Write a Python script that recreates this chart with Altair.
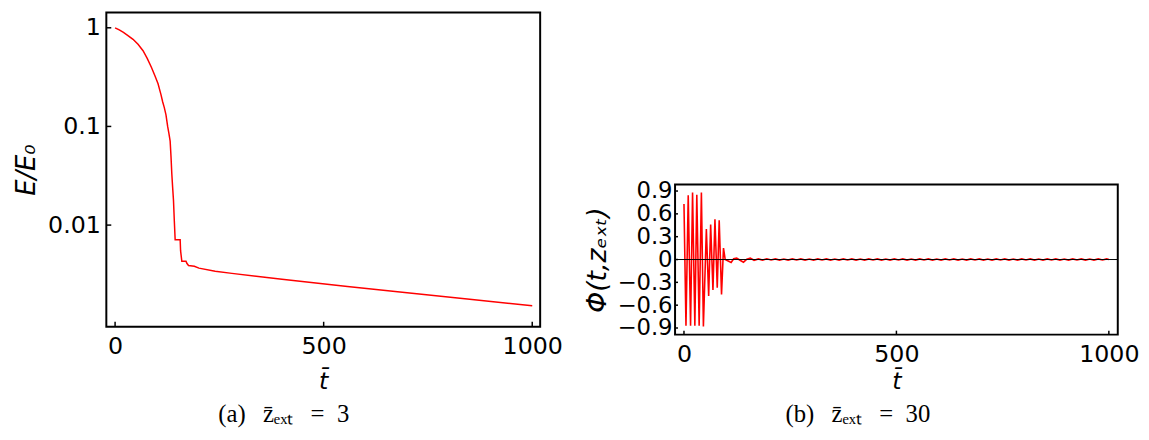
import altair as alt
import pandas as pd

# ---------------- data ----------------
t_a = [0, 10, 20, 30, 43, 55, 67, 77, 87, 95, 103, 110, 114, 118, 122, 126, 129,
       132, 134, 136, 138, 140, 142, 144, 156, 157, 160, 170, 172, 176, 190, 201,
       240, 280, 400, 557, 700, 850, 1000]
e_a = [1.0, 0.951, 0.898, 0.839, 0.764, 0.68, 0.585, 0.49, 0.398, 0.33, 0.271, 0.21,
       0.178, 0.155, 0.131, 0.10, 0.085, 0.071, 0.05, 0.033, 0.024, 0.0178, 0.011,
       0.0071, 0.0071, 0.0055, 0.0043, 0.0043, 0.0041, 0.0039, 0.00383, 0.00366,
       0.0034, 0.00324, 0.00283, 0.00238, 0.00206, 0.00177, 0.00152]

t_b_burst = [0, 4.7, 10, 15.5, 20.2, 25.6, 30.2, 35.7, 41, 45.7, 52.7, 58.1, 62.8,
             68.2, 72.9, 78.3, 82.9, 88.4, 93, 97, 104, 111, 117, 124, 132, 140, 148, 156]
phi_b_burst = [0.73, -0.87, 0.845, -0.87, 0.88, -0.87, 0.85, -0.87, 0.88, -0.88,
               0.40, -0.48, 0.46, -0.40, 0.53, -0.37, 0.515, -0.46, 0.15, 0.0,
               -0.02, -0.04, 0.01, 0.02, -0.01, -0.035, 0.005, 0.02]
t_b_tail = [165, 175, 185, 195, 205, 215, 225, 235, 245, 255, 265, 275, 285, 295,
            305, 315, 325, 335, 345, 355, 365, 375, 385, 395, 405, 415, 425, 435,
            445, 455, 465, 475, 485, 495, 505, 515, 525, 535, 545, 555, 565, 575,
            585, 595, 605, 615, 625, 635, 645, 655, 665, 675, 685, 695, 705, 715,
            725, 735, 745, 755, 765, 775, 785, 795, 805, 815, 825, 835, 845, 855,
            865, 875, 885, 895, 905, 915, 925, 935, 945, 955, 965, 975, 985, 995, 1000]
phi_b_tail = [-0.01, 0.008, -0.008, 0.009, -0.007, 0.008, -0.008, 0.007, -0.008, 0.008,
              -0.007, 0.008, -0.008, 0.007, -0.008, 0.008, -0.007, 0.008, -0.008, 0.007,
              -0.008, 0.008, -0.007, 0.008, -0.008, 0.007, -0.008, 0.008, -0.007, 0.008,
              -0.008, 0.007, -0.008, 0.008, -0.007, 0.008, -0.008, 0.007, -0.008, 0.008,
              -0.007, 0.008, -0.008, 0.007, -0.008, 0.008, -0.007, 0.008, -0.008, 0.007,
              -0.008, 0.008, -0.007, 0.008, -0.008, 0.007, -0.008, 0.008, -0.007, 0.008,
              -0.008, 0.007, -0.008, 0.008, -0.007, 0.008, -0.008, 0.007, -0.008, 0.008,
              -0.007, 0.008, -0.008, 0.007, -0.008, 0.008, -0.007, 0.008, -0.008, 0.007,
              -0.008, 0.008, -0.007, 0.008, 0.0]
t_b = t_b_burst + t_b_tail
phi_b = phi_b_burst + phi_b_tail

x_ticks = [0, 500, 1000]
y_ticks_a = [1, 0.1, 0.01]
y_ticks_b = [-0.9, -0.6, -0.3, 0, 0.3, 0.6, 0.9]

EN, TH = "\u2002", "\u2009"
caption_a = "(a)" + EN + TH + "z\u0304\u2091\u2093\u209c" + EN + TH + "=" + EN + "3"
caption_b = "(b)" + EN + TH + "z\u0304\u2091\u2093\u209c" + EN + TH + "=" + EN + "30"

# ---------------- styling ----------------
FONT = "DejaVu Sans"
SERIF = "Liberation Serif"
W_A, H_A = 439, 318
W_B, H_B = 448, 152

df_a = pd.DataFrame({"t": t_a, "E": e_a})
df_b = pd.DataFrame({"t": t_b, "phi": phi_b})
df_xt = pd.DataFrame({"t": x_ticks})
df_yta = pd.DataFrame({"E": y_ticks_a})
df_ytb = pd.DataFrame({"phi": y_ticks_b})

xs_a = alt.Scale(domain=[-21, 1019], nice=False, zero=False)
ys_a = alt.Scale(type="log", domain=[0.000933, 1.43], nice=False)
xs_b = alt.Scale(domain=[-21, 1021], nice=False, zero=False)
ys_b = alt.Scale(domain=[-0.987, 0.987], nice=False, zero=False)

ax_common = dict(grid=False, domain=False, ticks=False, labelFont=FONT,
                 labelColor="black", titleFont=FONT,
                 titleColor="black", titleFontWeight="normal",
                 titleFontStyle="italic", labelOverlap=False)

MINUS_EXPR = ("datum.value < 0 ? '\u2212' + format(-datum.value, '~g') "
              ": format(datum.value, '~g')")

x_axis_a = alt.Axis(values=x_ticks, format="d", labelPadding=8, title="t\u0304",
                    titlePadding=12, titleFontSize=24, labelFontSize=24, **ax_common)
y_axis_a = alt.Axis(values=y_ticks_a, format="~g", labelPadding=6, title="E/E\u2080",
                    titlePadding=8, titleFontSize=26, labelFontSize=24, **ax_common)
x_axis_b = alt.Axis(values=x_ticks, format="d", labelPadding=8, title="t\u0304",
                    titlePadding=4, titleFontSize=24, labelFontSize=24, **ax_common)
y_axis_b = alt.Axis(values=y_ticks_b, labelExpr=MINUS_EXPR, labelPadding=3,
                    title="\u03a6(t,z\u2091\u2093\u209c)", titlePadding=6,
                    titleFontSize=27, labelFontSize=23, **ax_common)

line_a = alt.Chart(df_a).mark_line(color="#ff0000", strokeWidth=1.5, clip=True).encode(
    x=alt.X("t:Q", scale=xs_a, axis=x_axis_a),
    y=alt.Y("E:Q", scale=ys_a, axis=y_axis_a),
)
xt_a = alt.Chart(df_xt).mark_rule(color="black", strokeWidth=1.5).encode(
    x=alt.X("t:Q", scale=xs_a, axis=x_axis_a), y=alt.value(H_A), y2=alt.value(H_A - 5))
yt_a = alt.Chart(df_yta).mark_rule(color="black", strokeWidth=1.5).encode(
    y=alt.Y("E:Q", scale=ys_a, axis=y_axis_a), x=alt.value(0), x2=alt.value(5))

panel_a = alt.layer(line_a, xt_a, yt_a).properties(
    width=W_A, height=H_A,
    title=alt.TitleParams(caption_a, orient="bottom", font=SERIF, fontSize=25,
                          fontWeight="normal", color="black", offset=8, dx=-40,
                          anchor="middle"),
)

line_b = alt.Chart(df_b).mark_line(color="#ff0000", strokeWidth=1.6, clip=True).encode(
    x=alt.X("t:Q", scale=xs_b, axis=x_axis_b),
    y=alt.Y("phi:Q", scale=ys_b, axis=y_axis_b),
)
zero_b = alt.Chart(pd.DataFrame({"phi": [0]})).mark_rule(color="black", strokeWidth=1).encode(
    y=alt.Y("phi:Q", scale=ys_b, axis=y_axis_b), x=alt.value(0), x2=alt.value(W_B))
xt_b = alt.Chart(df_xt).mark_rule(color="black", strokeWidth=1.5).encode(
    x=alt.X("t:Q", scale=xs_b, axis=x_axis_b), y=alt.value(H_B), y2=alt.value(H_B - 4))
yt_b = alt.Chart(df_ytb).mark_rule(color="black", strokeWidth=1.5).encode(
    y=alt.Y("phi:Q", scale=ys_b, axis=y_axis_b), x=alt.value(0), x2=alt.value(3))

panel_b = alt.layer(line_b, zero_b, xt_b, yt_b).properties(
    width=W_B, height=H_B,
    title=alt.TitleParams(caption_b, orient="bottom", font=SERIF, fontSize=25,
                          fontWeight="normal", color="black", offset=8, dx=-39,
                          anchor="middle"),
)

spacer = alt.Chart(pd.DataFrame({"a": [0]})).mark_point(opacity=0).properties(
    width=W_B, height=167, view=alt.ViewBackground(stroke="transparent"))

col_b = alt.vconcat(spacer, panel_b, spacing=0)

chart = alt.hconcat(panel_a, col_b, spacing=18.5).properties(
    padding={"left": 4.5, "top": 1, "right": 0, "bottom": 0}
).configure_view(stroke="black", strokeWidth=2).configure_axis(labelOverlap=False)

chart.save("out.html", embed_options={"renderer": "svg", "actions": False})
